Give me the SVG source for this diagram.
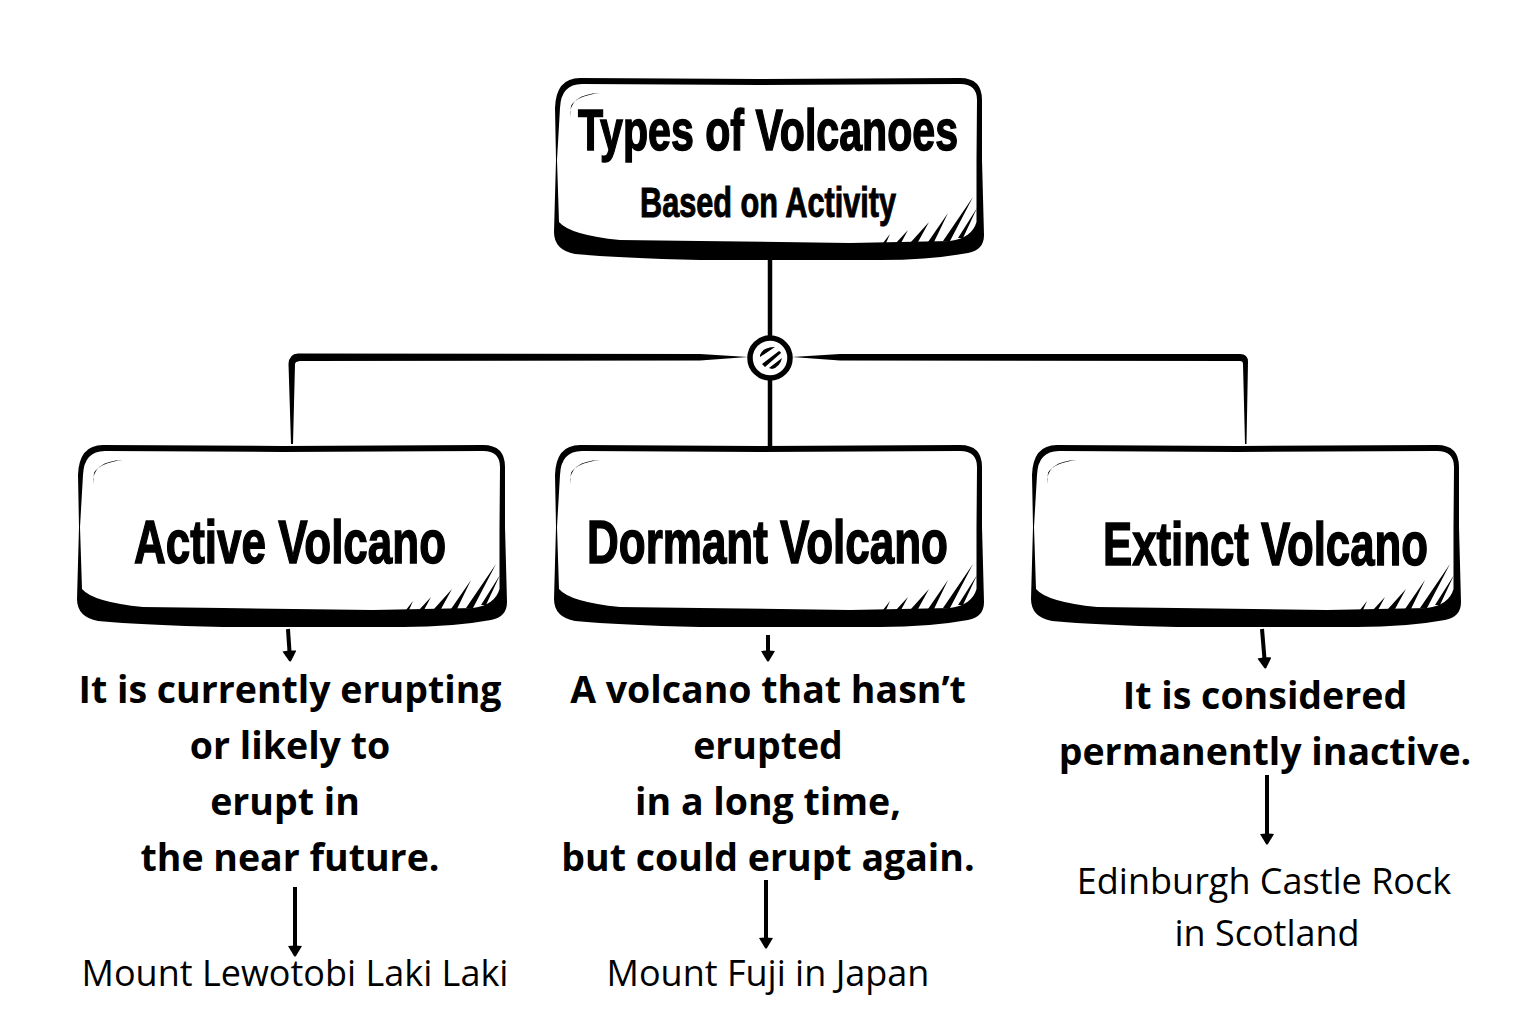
<svg xmlns="http://www.w3.org/2000/svg" xmlns:xlink="http://www.w3.org/1999/xlink" width="1536" height="1024" viewBox="0 0 1536 1024">
<style>
.hd{font-family:"Liberation Sans Narrow","Liberation Sans",sans-serif;font-weight:700;fill:#000;stroke:#000;text-anchor:start}
.b{font-family:"Open Sans","Noto Sans",sans-serif;font-weight:700;font-size:37.5px;fill:#000;text-anchor:middle}
.r{font-family:"Open Sans","Noto Sans",sans-serif;font-weight:400;font-size:36px;fill:#000;text-anchor:middle}
.ln{fill:none;stroke:#000;stroke-width:4.5}
.ar{fill:none;stroke:#000;stroke-width:4;marker-end:url(#head)}
</style>
<defs>
<marker id="head" markerUnits="userSpaceOnUse" markerWidth="20" markerHeight="14" refX="2" refY="7" orient="auto"><path d="M1 0 L11 6 Q12 7 11 8 L1 14 Q0 7 1 0Z" fill="#000"/></marker>
<symbol id="box" width="440" height="190" viewBox="550 75 440 190" overflow="visible">
<path fill="#000" d="M555 108 Q556 78 580 78 L760 79 L960 78 Q982 78 982 100 L982 160 L984 235 Q984 250 968 253 Q930 260 880 260 L700 260 Q620 258 575 254 Q554 250 554 232 L556 160 Z"/>
<path fill="#fff" d="M560 108 Q561 84 582 84 L760 85 L960 84 Q977 84 977 100 L976.500 160 L976.500 222 Q972 238 950 241 L850 243 L700 241 L620 240 Q570 235 559 222 L557 160 Z"/>
<path fill="#000" d="M570 117 Q569 94 600 93 Q576 96 571 106 L570 117Z"/>
<path fill="#000" d="M883 243 L890 234 L886 243Z M896 243 L908 230 L901 243Z M911 242 L929 222 L918 242Z M928 242 L948 213 L934 242Z M943 241 L973 197 L950 241Z M958 238 L977 208 L963 238Z"/>
</symbol>
</defs>
<rect width="1536" height="1024" fill="#fff"/>
<g id="connectors">
<path class="ln" d="M770 258 V340"/>
<path class="ln" d="M770 376 V446"/>
<path fill="#000" d="M748 357 L700 354 L298 353.500 Q289 354 288.500 364 L291 444 L293 444 L295 364 Q295 361.500 300 361 L700 360.500Z"/>
<path fill="#000" d="M792 357 L840 354 L1240 354 Q1248 354 1248 362 L1246.500 444 L1245 444 L1243 364 Q1243 361 1240 361 L840 360.500Z"/>
<path class="ar" d="M288 629 L289.500 652"/>
<path class="ar" d="M768 635 L768 652"/>
<path class="ar" d="M1262 629 L1264.500 659"/>
<path class="ar" d="M295 887 L295 947"/>
<path class="ar" d="M766 880 L766 939"/>
<path class="ar" d="M1267 775 L1267 835"/>
</g>
<g id="junction">
<circle cx="770" cy="358" r="20" fill="#fff" stroke="#000" stroke-width="5.500"/>
<path fill="#000" d="M760 355 Q763 347 775 347 L760 357Z M762 364 L779 351 Q781 352 781 353 L765 367Z M769 368 L782 358 Q780 367 772 369Z"/>
</g>
<g id="node-title">
<use href="#box" x="550" y="75" width="440" height="190"/>
<text class="hd" x="578" y="150" font-size="58" stroke-width="1.500" textLength="380" lengthAdjust="spacingAndGlyphs">Types of Volcanoes</text>
<text class="hd" x="640" y="217" font-size="43" stroke-width="1" textLength="256" lengthAdjust="spacingAndGlyphs">Based on Activity</text>
</g>
<g id="node-active">
<use href="#box" x="73" y="442" width="440" height="190"/>
<text class="hd" x="134" y="563" font-size="62" stroke-width="1.500" textLength="312" lengthAdjust="spacingAndGlyphs">Active Volcano</text>
<text class="b" x="290" y="703">It is currently erupting</text>
<text class="b" x="290" y="759">or likely to</text>
<text class="b" x="285" y="815">erupt in</text>
<text class="b" x="290" y="871">the near future.</text>
<text class="r" x="295" y="986">Mount Lewotobi Laki Laki</text>
</g>
<g id="node-dormant">
<use href="#box" x="550" y="442" width="440" height="190"/>
<text class="hd" x="587" y="563" font-size="62" stroke-width="1.500" textLength="361" lengthAdjust="spacingAndGlyphs">Dormant Volcano</text>
<text class="b" x="768" y="703">A volcano that hasn’t</text>
<text class="b" x="768" y="759">erupted</text>
<text class="b" x="768" y="815">in a long time,</text>
<text class="b" x="768" y="871">but could erupt again.</text>
<text class="r" x="768" y="986">Mount Fuji in Japan</text>
</g>
<g id="node-extinct">
<use href="#box" x="1027" y="442" width="440" height="190"/>
<text class="hd" x="1103" y="565" font-size="62" stroke-width="1.500" textLength="325" lengthAdjust="spacingAndGlyphs">Extinct Volcano</text>
<text class="b" x="1265" y="709">It is considered</text>
<text class="b" x="1265" y="765">permanently inactive.</text>
<text class="r" x="1264" y="894">Edinburgh Castle Rock</text>
<text class="r" x="1267" y="946">in Scotland</text>
</g>
</svg>
